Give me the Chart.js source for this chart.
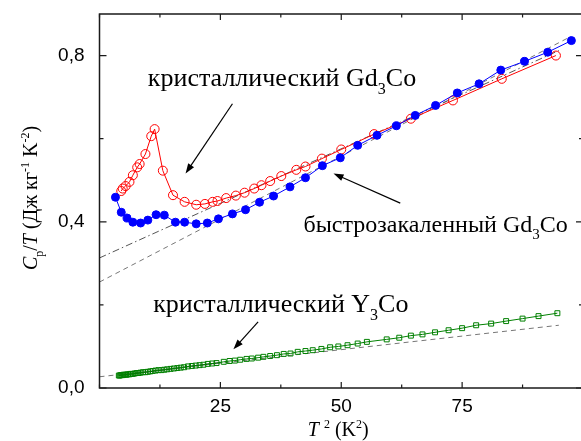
<!DOCTYPE html>
<html>
<head>
<meta charset="utf-8">
<script src="https://cdn.jsdelivr.net/npm/chart.js@4.4.0/dist/chart.umd.min.js"></script>
<style>
  html, body { margin: 0; padding: 0; overflow: hidden; background: #fff; }
  #wrap { width: 590px; height: 441px; }
</style>
</head>
<body>
<div id="wrap"><canvas id="chart" width="590" height="441"></canvas></div>
<script>
// crystalline Gd3Co (open red circles)
const crystX = [4.5, 4.8, 5.4, 6.2, 6.9, 7.8, 8.3, 9.5, 10.7, 11.4, 13.1, 15.2, 17.6, 20.0, 21.8, 23.4, 24.4, 26.2, 28.2, 30.0,
                32.0, 33.5, 35.3, 37.6, 40.7, 42.6, 46.0, 50.0, 56.8, 64.4, 73.1, 83.2, 94.4];
const crystY = [0.474, 0.480, 0.486, 0.496, 0.512, 0.531, 0.539, 0.563, 0.606, 0.623, 0.523, 0.464, 0.448, 0.441, 0.443, 0.448, 0.450, 0.457, 0.463, 0.470,
                0.480, 0.488, 0.498, 0.510, 0.525, 0.533, 0.552, 0.574, 0.611, 0.648, 0.692, 0.744, 0.800];

// quenched Gd3Co (filled blue circles)
const quenchX = [3.3, 4.5, 5.7, 6.9, 8.5, 10.0, 11.7, 13.4, 15.7, 17.6, 20.0, 22.3, 24.6, 27.5, 30.2, 33.1, 36.0, 39.4,
                 42.6, 46.1, 49.8, 53.4, 57.4, 61.4, 65.3, 69.5, 74.0, 78.5, 83.0, 87.9, 92.7, 97.6];
const quenchY = [0.459, 0.423, 0.409, 0.399, 0.397, 0.404, 0.417, 0.416, 0.399, 0.399, 0.395, 0.397, 0.407, 0.419, 0.429, 0.447, 0.462, 0.484,
                 0.506, 0.535, 0.554, 0.584, 0.608, 0.631, 0.656, 0.680, 0.710, 0.732, 0.765, 0.786, 0.808, 0.836];

// crystalline Y3Co (open green squares)
const yCoX = [4.0, 4.2, 4.4, 4.6, 4.8, 5.0, 5.3, 5.6, 5.9, 6.2, 6.5, 6.9, 7.3, 7.7, 8.1, 8.5, 9.0, 9.5, 10.0, 10.5,
              11.0, 11.6, 12.2, 12.8, 13.4, 14.0, 14.7, 15.4, 16.1, 16.8, 17.5, 18.3, 19.1, 19.9, 20.7, 21.5, 22.4, 23.3, 24.2, 25.7,
              26.9, 28.0, 29.1, 30.4, 31.5, 32.8, 33.9, 35.3, 36.7, 38.1, 39.5, 41.0, 42.6, 44.1, 45.9, 47.7, 49.4, 51.3, 53.4, 55.3,
              59.4, 62.0, 64.4, 66.8, 69.4, 72.2, 75.0, 77.9, 81.0, 84.1, 87.5, 90.8, 94.7];
const yCoY = [0.030, 0.030, 0.031, 0.031, 0.031, 0.032, 0.032, 0.032, 0.033, 0.033, 0.034, 0.034, 0.035, 0.036, 0.036, 0.037, 0.038, 0.038, 0.039, 0.040,
              0.041, 0.042, 0.043, 0.043, 0.044, 0.045, 0.046, 0.047, 0.048, 0.049, 0.050, 0.052, 0.053, 0.054, 0.055, 0.056, 0.058, 0.059, 0.060, 0.063,
              0.065, 0.066, 0.068, 0.070, 0.071, 0.073, 0.075, 0.077, 0.079, 0.082, 0.083, 0.087, 0.089, 0.091, 0.094, 0.098, 0.100, 0.103, 0.107, 0.111,
              0.117, 0.121, 0.126, 0.129, 0.134, 0.139, 0.144, 0.151, 0.155, 0.161, 0.167, 0.173, 0.180];

// linear fits (end points)
const crystFitX = [0, 95];     const crystFitY = [0.313, 0.812];
const quenchFitX = [0, 97.5];  const quenchFitY = [0.255, 0.846];
const yCoFitX = [0, 95];       const yCoFitY = [0.027, 0.151];
const yCoLowX = [4, 25];       const yCoLowY = [0.030, 0.061];

// axes
const xMin = 0, xMax = 100, xStep = 12.5, xLabelled = [25, 50, 75];
const yMin = 0, yMax = 0.9, yStep = 0.2, yLabelled = [0, 0.4, 0.8];

// annotations (anchor in data units)
const labels = [
    { x: 10.0, y: 0.726, size: 26, parts: [['кристаллический Gd', 'n'], ['3', 'sub'], ['Co', 'n']] },
    { x: 42.2, y: 0.375, size: 24, parts: [['быстрозакаленный Gd', 'n'], ['3', 'sub'], ['Co', 'n']] },
    { x: 11.1, y: 0.183, size: 26, parts: [['кристаллический Y', 'n'], ['3', 'sub'], ['Co', 'n']] }
];
const arrows = [
    { from: [27.5, 0.684], to: [17.8, 0.516] },
    { from: [62.2, 0.445], to: [48.4, 0.516] },
    { from: [32.8, 0.159], to: [27.7, 0.093] }
];

const pts = (xs, ys) => xs.map((x, i) => ({ x: x, y: ys[i] }));
const serif = '"Liberation Serif", "Times New Roman", serif';
const sans = '"Liberation Sans", Arial, sans-serif';

function drawRich(ctx, parts, x, y, size, align) {
    const fontFor = k => (k === 'i' ? 'italic ' : '') +
        ((k === 'sub' || k === 'sup') ? Math.round(size * 0.62) : size) + 'px ' + serif;
    let w = 0;
    parts.forEach(p => { ctx.font = fontFor(p[1]); w += ctx.measureText(p[0]).width; });
    let cx = align === 'center' ? x - w / 2 : x;
    ctx.textAlign = 'left';
    ctx.textBaseline = 'alphabetic';
    parts.forEach(p => {
        ctx.font = fontFor(p[1]);
        const dy = p[1] === 'sub' ? size * 0.3 : (p[1] === 'sup' ? -size * 0.42 : 0);
        ctx.fillText(p[0], cx, y + dy);
        cx += ctx.measureText(p[0]).width;
    });
}

function drawArrow(ctx, x1, y1, x2, y2) {
    const a = Math.atan2(y2 - y1, x2 - x1);
    const len = 10, half = 3.5;
    ctx.beginPath();
    ctx.moveTo(x1, y1);
    ctx.lineTo(x2 - Math.cos(a) * len * 0.8, y2 - Math.sin(a) * len * 0.8);
    ctx.stroke();
    ctx.beginPath();
    ctx.moveTo(x2, y2);
    ctx.lineTo(x2 - Math.cos(a) * len - Math.sin(a) * half, y2 - Math.sin(a) * len + Math.cos(a) * half);
    ctx.lineTo(x2 - Math.cos(a) * len + Math.sin(a) * half, y2 - Math.sin(a) * len - Math.cos(a) * half);
    ctx.closePath();
    ctx.fill();
}

const isOn = (v, list) => list.some(l => Math.abs(l - v) < 1e-6);

// frame, inward ticks, text and arrows
const decorations = {
    id: 'decorations',
    afterDraw(chart) {
        const ctx = chart.ctx;
        const area = chart.chartArea;
        const xs = chart.scales.x, ys = chart.scales.y;
        ctx.save();
        ctx.strokeStyle = '#1a1a1a';
        ctx.fillStyle = '#000';
        ctx.lineWidth = 1.5;
        ctx.strokeRect(area.left, area.top, area.right - area.left, area.bottom - area.top);

        ctx.lineWidth = 1.2;
        ctx.beginPath();
        xs.ticks.forEach(t => {
            const px = xs.getPixelForValue(t.value);
            const l = isOn(t.value, xLabelled) ? 6 : 3.5;
            ctx.moveTo(px, area.bottom); ctx.lineTo(px, area.bottom - l);
            ctx.moveTo(px, area.top); ctx.lineTo(px, area.top + l);
        });
        ys.ticks.forEach(t => {
            if (Math.abs(Math.round(t.value / yStep) * yStep - t.value) > 1e-6) return;
            const py = ys.getPixelForValue(t.value);
            const l = isOn(t.value, yLabelled) ? 7 : 4;
            ctx.moveTo(area.left, py); ctx.lineTo(area.left + l, py);
            ctx.moveTo(area.right, py); ctx.lineTo(area.right - l, py);
        });
        ctx.stroke();

        // annotations
        labels.forEach(lb => {
            drawRich(ctx, lb.parts, xs.getPixelForValue(lb.x), ys.getPixelForValue(lb.y), lb.size, 'left');
        });
        ctx.lineWidth = 1.2;
        ctx.strokeStyle = '#000';
        arrows.forEach(a => {
            drawArrow(ctx, xs.getPixelForValue(a.from[0]), ys.getPixelForValue(a.from[1]),
                           xs.getPixelForValue(a.to[0]), ys.getPixelForValue(a.to[1]));
        });

        // axis titles
        drawRich(ctx, [['T', 'i'], [' ', 'n'], ['2', 'sup'], [' (K', 'n'], ['2', 'sup'], [')', 'n']],
                 (area.left + area.right) / 2 - 3, 436, 20, 'center');
        ctx.translate(37, (area.top + area.bottom) / 2 - 3);
        ctx.rotate(-Math.PI / 2);
        drawRich(ctx, [['C', 'i'], ['p', 'sub'], ['/', 'n'], ['T', 'i'], [' (Дж кг', 'n'], ['-1', 'sup'],
                       [' K', 'n'], ['-2', 'sup'], [')', 'n']], 0, 0, 20, 'center');
        ctx.restore();
    }
};

const fitLine = (data, color, dash) => ({
    data: data, showLine: true, pointRadius: 0, borderColor: color, borderWidth: 1,
    borderDash: dash, order: 10
});

new Chart(document.getElementById('chart'), {
    type: 'scatter',
    data: {
        datasets: [
            fitLine(pts(yCoFitX, yCoFitY), '#777', [5, 4]),
            fitLine(pts(yCoLowX, yCoLowY), '#000', []),
            fitLine(pts(crystFitX, crystFitY), '#555', [7, 3, 1.5, 3]),
            fitLine(pts(quenchFitX, quenchFitY), '#777', [5, 4]),
            {
                label: 'кристаллический Gd3Co', data: pts(crystX, crystY), showLine: true,
                borderColor: '#ff0000', borderWidth: 1, backgroundColor: 'rgba(0,0,0,0)',
                pointStyle: 'circle', pointRadius: 4.5, pointBorderWidth: 1, order: 3
            },
            {
                label: 'быстрозакаленный Gd3Co', data: pts(quenchX, quenchY), showLine: true,
                borderColor: '#0000ff', borderWidth: 1, backgroundColor: '#0000ff',
                pointStyle: 'circle', pointRadius: 4, pointBorderWidth: 1, order: 2
            },
            {
                label: 'кристаллический Y3Co', data: pts(yCoX, yCoY), showLine: true,
                borderColor: '#008000', borderWidth: 1, backgroundColor: 'rgba(0,0,0,0)',
                pointStyle: 'rect', pointRadius: 3.5, pointBorderWidth: 1, order: 1
            }
        ]
    },
    options: {
        responsive: false,
        animation: false,
        layout: { padding: { top: 14, right: 7, left: 0, bottom: 0 } },
        plugins: { legend: { display: false }, tooltip: { enabled: false } },
        scales: {
            x: {
                type: 'linear', min: xMin, max: xMax,
                grid: { display: false }, border: { display: false },
                ticks: {
                    stepSize: xStep, autoSkip: false, maxRotation: 0, padding: -1, color: '#000',
                    font: { family: sans, size: 19 },
                    callback: v => isOn(v, xLabelled) ? String(v) : ''
                },
                afterFit: s => { s.height = 53; s.paddingLeft = 0; s.paddingRight = 0; }
            },
            y: {
                type: 'linear', min: yMin, max: yMax,
                grid: { display: false }, border: { display: false },
                ticks: {
                    stepSize: yStep, autoSkip: false, padding: 7, color: '#000',
                    font: { family: sans, size: 19 },
                    callback: v => isOn(v, yLabelled) ? v.toFixed(1).replace('.', ',') : ''
                },
                afterFit: s => { s.width = 99.5; s.paddingTop = 0; s.paddingBottom = 0; }
            }
        }
    },
    plugins: [decorations]
});
</script>
</body>
</html>
